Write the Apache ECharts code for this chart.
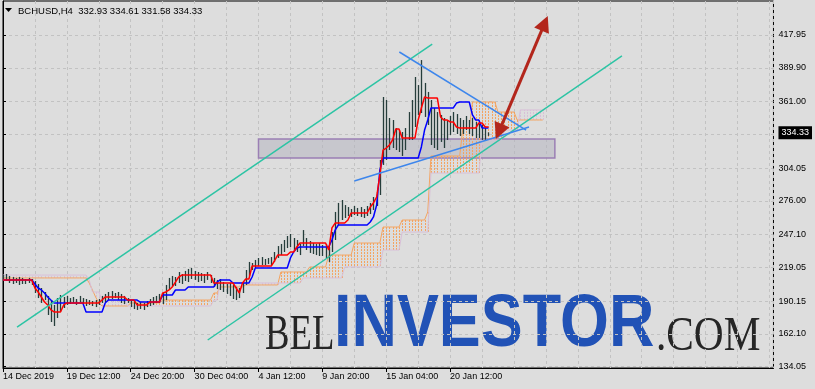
<!DOCTYPE html>
<html><head><meta charset="utf-8">
<script src="https://cdn.jsdelivr.net/npm/echarts@6/dist/echarts.min.js"></script>
<style>html,body{margin:0;padding:0;background:#dddddd;}#c{width:815px;height:389px;}</style>
</head><body><div id="c"></div>
<script>
// ---- data ----
const timeLabels = ['14 Dec 2019','19 Dec 12:00','24 Dec 20:00','30 Dec 04:00','4 Jan 12:00','9 Jan 20:00','15 Jan 04:00','20 Jan 12:00'];
const timeLabelIndex = [0,20,40,60,80,100,120,140];
const priceLabels = [417.95,389.90,361.00,304.05,276.00,247.10,219.05,190.15,162.10,134.05];
const gridPrices = [417.95,389.90,361.00,332.95,304.05,276.00,247.10,219.05,190.15,162.10,134.05];
const lastClose = 334.33;
const headerOHLC = [332.93,334.61,331.58,334.33];

const highs = [212.5,213.4,211.7,210.8,210.0,210.8,210.0,209.1,210.0,209.1,
207.4,204.8,201.4,198.0,194.6,191.1,186.9,192.8,195.4,193.7,
194.6,192.8,193.7,192.0,194.6,192.8,192.0,191.1,190.3,191.1,
192.0,194.6,196.3,198.0,198.8,197.1,198.0,196.3,194.6,192.8,
191.1,190.3,188.6,189.4,188.6,190.3,192.0,193.7,194.6,196.3,
197.1,204.0,210.0,211.7,210.8,215.1,213.4,216.0,217.7,218.5,
216.0,215.1,214.2,213.4,215.1,212.5,210.0,208.3,209.1,206.5,
204.8,205.7,204.0,202.3,201.4,206.5,216.8,223.7,222.8,225.4,
227.1,227.9,226.2,227.1,227.9,232.2,237.3,239.1,242.5,245.9,
247.6,244.2,242.5,239.1,251.0,244.2,241.6,239.9,239.1,239.9,
238.2,239.1,236.5,249.3,266.5,274.2,276.7,272.4,270.7,269.0,
271.6,269.9,270.7,269.0,271.6,274.2,279.3,283.6,311.0,364.9,
362.3,346.9,345.2,338.3,336.6,334.9,338.3,352.0,362.3,382.0,
375.1,396.5,376.9,369.2,362.3,355.5,352.0,349.5,346.9,345.2,
348.6,352.0,350.3,346.9,345.2,348.6,345.2,346.9,343.5,341.8,
340.9,338.3,334.61];
const lows = [209.1,207.4,205.7,204.8,205.7,204.0,204.8,204.8,205.7,204.0,
197.1,192.8,188.6,191.1,178.3,172.3,168.9,175.7,180.9,184.3,
186.9,187.7,188.6,186.9,189.4,187.7,186.0,186.9,186.0,185.1,
186.9,188.6,189.4,191.1,192.0,192.8,191.1,188.6,187.7,188.6,
185.1,183.4,182.6,183.4,182.6,185.1,186.0,186.9,188.6,188.6,
187.7,191.1,199.7,202.3,203.1,205.7,204.8,207.4,206.5,209.1,
208.3,206.5,207.4,205.7,208.3,205.7,202.3,200.5,199.7,198.0,
196.3,194.6,192.0,191.1,192.8,197.1,204.0,211.7,216.8,218.5,
220.2,221.1,221.1,221.9,221.1,223.7,227.1,229.6,232.2,235.6,
236.5,233.9,232.2,229.6,237.3,233.9,231.4,230.5,229.6,228.8,
228.8,227.1,223.7,232.2,242.5,255.3,259.6,261.3,263.0,262.2,
263.9,263.0,262.2,261.3,263.0,264.7,268.2,271.6,281.0,306.7,
311.0,319.5,321.2,319.5,317.8,314.4,319.5,328.1,328.1,339.2,
349.5,351.2,347.8,340.9,323.8,321.2,319.5,326.4,321.2,328.1,
332.4,334.9,333.2,331.5,333.2,336.6,333.2,331.5,329.8,329.8,
328.1,327.2,331.58];
const tenkan = [208.3,208.3,208.3,208.3,208.3,208.3,208.3,208.3,208.3,208.3,
201.4,198.0,193.7,189.4,186.9,182.6,180.9,180.9,180.9,186.9,
188.6,188.6,188.6,188.6,188.6,188.6,188.6,188.6,188.6,188.6,
188.6,191.1,193.7,193.7,193.7,193.7,193.7,193.7,193.7,191.1,
191.1,191.1,186.9,186.9,186.9,186.9,189.4,189.4,189.4,189.4,
197.1,198.0,199.7,202.3,206.5,210.8,212.5,212.5,212.5,212.5,
212.5,212.5,212.5,212.5,212.5,212.5,205.7,205.7,205.7,205.7,
205.7,205.7,205.7,201.4,197.1,205.7,209.1,209.1,220.2,220.2,
220.2,220.2,220.2,220.2,220.2,224.5,229.6,229.6,229.6,229.6,
232.2,232.2,236.5,239.9,239.9,239.9,239.9,239.9,239.9,239.9,
239.9,239.9,233.9,252.8,257.0,257.0,257.0,257.0,259.6,265.6,
265.6,265.6,265.6,265.6,265.6,270.7,274.2,279.3,298.1,319.5,
321.2,323.8,328.1,337.5,337.5,329.8,329.8,329.8,329.8,329.8,
345.2,355.5,364.9,364.0,364.0,364.0,364.0,347.8,345.2,345.2,
343.5,343.5,339.2,338.3,338.3,338.3,338.3,338.3,338.3,342.6,
342.6,339.2,339.2];
const kijun = [208.3,208.3,208.3,208.3,208.3,208.3,208.3,208.3,208.3,208.3,
204.8,201.4,199.7,197.1,193.7,191.1,188.6,188.6,188.6,188.6,
188.6,188.6,188.6,188.6,188.6,188.6,180.9,180.9,180.9,180.9,
180.9,180.9,188.6,191.1,191.1,191.1,191.1,191.1,191.1,191.1,
191.1,191.1,191.1,189.4,189.4,189.4,189.4,189.4,189.4,189.4,
195.4,195.4,195.4,195.4,199.7,199.7,199.7,199.7,202.3,202.3,
202.3,202.3,202.3,202.3,202.3,202.3,202.3,206.5,208.3,208.3,
208.3,208.3,205.7,205.7,205.7,205.7,205.7,205.7,210.8,218.5,
218.5,218.5,218.5,218.5,218.5,218.5,218.5,218.5,218.5,218.5,
227.1,232.2,235.6,236.5,236.5,236.5,236.5,236.5,236.5,236.5,
236.5,236.5,236.5,242.5,251.0,255.3,255.3,255.3,255.3,255.3,
255.3,255.3,255.3,255.3,255.3,257.9,262.2,272.4,302.4,312.7,
312.7,312.7,312.7,312.7,312.7,312.7,312.7,312.7,312.7,312.7,
312.7,322.1,336.6,345.2,355.5,355.5,355.5,355.5,355.5,355.5,
355.5,355.5,359.7,360.6,360.6,360.6,360.6,349.5,345.2,345.2,
338.3,338.3,338.3];
const spanA = [210.0,210.0,210.0,210.0,210.0,210.0,210.0,210.0,210.0,210.0,
210.0,210.0,210.0,210.0,210.0,210.0,210.0,210.0,210.0,210.0,
210.0,210.0,210.0,210.0,210.0,210.0,210.0,205.7,199.7,193.7,
188.6,186.0,186.0,186.0,186.0,186.0,186.0,186.0,186.0,186.0,
188.6,188.6,188.6,188.6,188.6,188.6,188.6,188.6,188.6,188.6,
191.1,191.1,191.1,191.1,191.1,191.1,191.1,191.1,191.1,191.1,
191.1,191.1,191.1,191.1,191.1,191.1,197.1,197.1,202.3,202.3,
202.3,202.3,202.3,202.3,202.3,202.3,204.0,204.0,204.0,204.0,
204.0,204.0,204.0,204.0,204.0,204.0,204.0,215.1,215.1,215.1,
215.1,215.1,215.1,215.1,215.1,215.1,219.4,219.4,219.4,219.4,
219.4,219.4,229.6,229.6,229.6,229.6,229.6,229.6,229.6,229.6,
239.9,239.9,239.9,239.9,239.9,239.9,239.9,239.9,239.9,253.6,
253.6,253.6,253.6,253.6,253.6,259.6,259.6,259.6,259.6,259.6,
259.6,259.6,259.6,266.5,314.4,314.4,314.4,314.4,314.4,314.4,
314.4,314.4,314.4,314.4,338.3,338.3,338.3,360.6,360.6,360.6,
360.6,360.6,360.6,360.6,360.6,352.0,352.0,352.0,352.0,352.0,
352.0,345.2,345.2,345.2,345.2,345.2,345.2,345.2,345.2,345.2];
const spanB = [212.5,212.5,212.5,212.5,212.5,212.5,212.5,212.5,212.5,212.5,
212.5,212.5,212.5,212.5,212.5,212.5,212.5,212.5,212.5,212.5,
212.5,212.5,212.5,212.5,212.5,212.5,212.5,208.3,198.0,198.0,
198.0,191.1,191.1,191.1,191.1,191.1,191.1,191.1,191.1,186.0,
186.0,186.0,186.0,186.0,186.0,186.0,186.0,186.0,186.0,186.0,
186.0,186.0,186.0,186.0,186.0,186.0,186.0,186.0,186.0,186.0,
186.0,186.0,186.0,186.0,186.0,186.0,191.1,191.1,205.7,205.7,
205.7,205.7,205.7,205.7,205.7,205.7,205.7,205.7,205.7,205.7,
205.7,205.7,205.7,205.7,205.7,205.7,205.7,205.7,205.7,205.7,
205.7,205.7,205.7,205.7,210.0,210.0,210.0,210.0,210.0,210.0,
210.0,210.0,210.0,210.0,210.0,210.0,210.0,219.4,219.4,219.4,
219.4,219.4,219.4,219.4,219.4,219.4,219.4,219.4,219.4,233.9,
233.9,233.9,233.9,233.9,233.9,249.3,249.3,249.3,249.3,249.3,
249.3,249.3,249.3,249.3,299.8,299.8,299.8,299.8,299.8,299.8,
299.8,299.8,299.8,299.8,299.8,299.8,299.8,299.8,299.8,299.8,
328.1,328.1,328.1,328.1,328.1,328.1,328.1,336.6,336.6,336.6,
336.6,336.6,353.8,353.8,353.8,353.8,353.8,353.8,353.8,353.8];

// drawn objects (bar index, price)
const channelUpper = [[4.4,168.0],[134.4,410.2]];
const channelLower = [[64.1,156.9],[193.8,400.0]];
const wedgeTop = [[124.1,403.4],[163.8,336.6]];
const wedgeBottom = [[110.0,293.0],[164.7,339.2]];
const zoneBox = [[80.0,328.9],[172.8,312.7]];
const forecastArrow = [[155.3,335.3],[169.6,427.9]];

// ---- chart ----
const FONT = '"Liberation Sans", Arial, sans-serif';
const chart = echarts.init(document.getElementById('c'), null, {renderer:'canvas'});
const barData = highs.map((h,i)=>[i, lows[i], h]);
const cloudData = spanA.map((a,i)=>[i, a, spanB[i]]);
const line = (arr)=>arr.map((v,i)=>[i,v]);

const option = {
  animation:false,
  backgroundColor:'#dddddd',
  grid:{left:3,right:40,top:1,bottom:21,show:true,borderColor:'#000',borderWidth:1,backgroundColor:'transparent'},
  xAxis:[{
    type:'value',min:0,max:241.25,position:'bottom',
    axisLine:{show:true,lineStyle:{color:'#000',width:1}},
    axisTick:{show:true,customValues:timeLabelIndex,length:4,lineStyle:{color:'#000'}},
    axisLabel:{customValues:timeLabelIndex,formatter:(v)=>timeLabels[timeLabelIndex.indexOf(v)]||'',align:'left',margin:4,color:'#000',fontSize:9,fontFamily:FONT},
    splitLine:{show:false}
  },{
    type:'value',min:0,max:241.25,interval:10,position:'bottom',
    axisLine:{show:false},axisTick:{show:false},axisLabel:{show:false},
    splitLine:{show:true,lineStyle:{color:'#c2c2c2',type:[3,3],width:1}}
  }],
  yAxis:{
    type:'value',position:'right',min:132.93,max:447.04,
    axisLine:{show:true,lineStyle:{color:'#000',width:1}},
    axisTick:{show:true,customValues:gridPrices,length:3,lineStyle:{color:'#000'}},
    axisLabel:{customValues:priceLabels.concat([lastClose]),margin:5,color:'#000',fontSize:9,fontFamily:FONT,
      formatter:(v)=> v===lastClose ? '{cur|'+v.toFixed(2)+'}' : v.toFixed(2),
      rich:{cur:{backgroundColor:'#000',color:'#fff',fontSize:9,fontFamily:FONT,padding:[2,3,2,3]}}},
    splitLine:{show:true,lineStyle:{color:'#c2c2c2',type:[3,3],width:1}}
  },
  graphic:[
    {type:'polygon',z:10,shape:{points:[[5,8],[12,8],[8.5,12]]},style:{fill:'#000'}},
    {type:'text',z:10,x:18,y:11,style:{text:'BCHUSD,H4  '+headerOHLC.map(v=>v.toFixed(2)).join(' '),fill:'#000',font:'9.5px '+FONT,verticalAlign:'middle',align:'left'}},
    {type:'text',z:0,x:265,y:336,scaleX:0.72,style:{text:'BEL',fill:'#262626',font:'51px "Liberation Serif", "Times New Roman", serif',verticalAlign:'middle',align:'left'}},
    {type:'text',z:0,x:334,y:326,scaleX:0.85,style:{text:'INVESTOR',fill:'#2152b6',font:'bold 74px "Liberation Sans", Arial, sans-serif',verticalAlign:'middle',align:'left'}},
    {type:'text',z:0,x:656,y:337,scaleX:0.86,style:{text:'.COM',fill:'#262626',font:'48px "Liberation Serif", "Times New Roman", serif',verticalAlign:'middle',align:'left'}}
  ],
  series:[
    {type:'custom',name:'cloud',z:1,clip:true,data:cloudData,encode:{x:0,y:[1,2]},
      renderItem:(params,api)=>{
        const a = api.coord([api.value(0),api.value(1)]);
        const b = api.coord([api.value(0),api.value(2)]);
        const x = Math.round(a[0])+0.5;
        return {type:'line',shape:{x1:x,y1:a[1],x2:x,y2:b[1]},
          style:{stroke: api.value(1)>=api.value(2)?'#f4a460':'#d8bfd8',lineWidth:1,lineDash:[2,1]}};
      }},
    {type:'line',name:'spanA',z:1,data:line(spanA),showSymbol:false,symbol:'none',lineStyle:{color:'#f4a460',width:1}},
    {type:'line',name:'spanB',z:1,data:line(spanB),showSymbol:false,symbol:'none',lineStyle:{color:'#d8bfd8',width:1}},
    {type:'custom',name:'bars',z:2,clip:true,data:barData,encode:{x:0,y:[1,2]},
      renderItem:(params,api)=>{
        const a = api.coord([api.value(0),api.value(1)]);
        const b = api.coord([api.value(0),api.value(2)]);
        const x = Math.round(a[0])+0.5;
        return {type:'line',shape:{x1:x,y1:a[1],x2:x,y2:b[1]},style:{stroke:'#263d3b',lineWidth:1.3}};
      }},
    {type:'line',name:'kijun',z:3,data:line(kijun),showSymbol:false,symbol:'none',lineStyle:{color:'#0000ff',width:1.5}},
    {type:'line',name:'tenkan',z:3,data:line(tenkan),showSymbol:false,symbol:'none',lineStyle:{color:'#ff0000',width:1.5}},
    {type:'line',name:'chU',z:4,data:channelUpper,showSymbol:false,symbol:'none',lineStyle:{color:'#2cc4a4',width:1.5}},
    {type:'line',name:'chL',z:4,data:channelLower,showSymbol:false,symbol:'none',lineStyle:{color:'#2cc4a4',width:1.5}},
    {type:'line',name:'wT',z:4,data:wedgeTop,showSymbol:false,symbol:'none',lineStyle:{color:'#3d86ec',width:1.5}},
    {type:'line',name:'wB',z:4,data:wedgeBottom,showSymbol:false,symbol:'none',lineStyle:{color:'#3d86ec',width:1.5}},
    {type:'line',name:'zone',z:5,data:[],markArea:{silent:true,label:{show:false},
      itemStyle:{color:'rgba(180,180,192,0.55)',borderColor:'#9b7fb4',borderWidth:1.5},
      data:[[{coord:zoneBox[0]},{coord:zoneBox[1]}]]}},
    {type:'line',name:'arrow',z:6,data:[],markLine:{silent:true,animation:false,symbol:['triangle','triangle'],symbolSize:16,
      label:{show:false},lineStyle:{color:'#b3261c',width:3,type:'solid'},
      data:[[{coord:forecastArrow[0]},{coord:forecastArrow[1]}]]}}
  ]
};
chart.setOption(option);
</script></body></html>
